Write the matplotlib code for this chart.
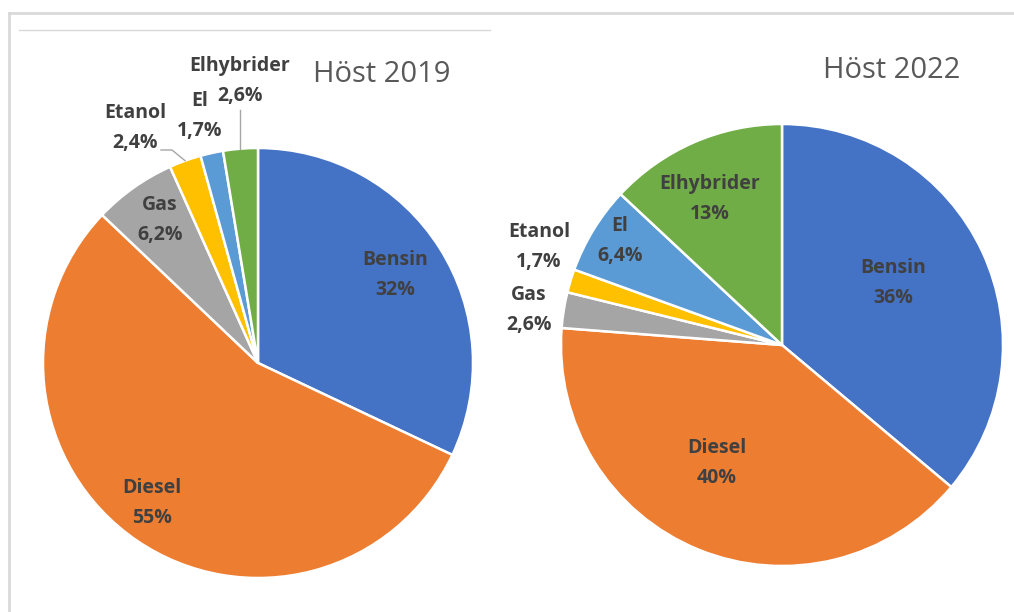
import numpy as np
import matplotlib.pyplot as plt
from matplotlib.lines import Line2D

plt.rcParams['font.family'] = ['Open Sans', 'DejaVu Sans']

# data
categories = ["Bensin", "Diesel", "Gas", "Etanol", "El", "Elhybrider"]
share_2019 = [32, 55, 6.2, 2.4, 1.7, 2.6]
share_2022 = [36, 40, 2.6, 1.7, 6.4, 13]
pct_2019 = ["32%", "55%", "6,2%", "2,4%", "1,7%", "2,6%"]
pct_2022 = ["36%", "40%", "2,6%", "1,7%", "6,4%", "13%"]
colors = ["#4472C4", "#ED7D31", "#A5A5A5", "#FFC000", "#5B9BD5", "#70AD47"]

W, H = 1014, 612
fig = plt.figure(figsize=(W / 100, H / 100), dpi=100)
ax = fig.add_axes([0, 0, 1, 1])

# frame lines
ax.add_line(Line2D([9, W], [13, 13], color="#D9D9D9", lw=2))
ax.add_line(Line2D([9, 9], [13, H], color="#D9D9D9", lw=2))
ax.add_line(Line2D([19, 490], [30, 30], color="#D9D9D9", lw=1))


# y axis is inverted (pixel coords), so draw counterclock from -90 to get clockwise from top
def pie_flip(vals, center, r):
    wedges, _ = ax.pie(vals, colors=colors, startangle=-90, counterclock=True,
                       center=center, radius=r, normalize=True,
                       wedgeprops=dict(edgecolor="white", linewidth=1.8))
    return wedges


w19 = pie_flip(share_2019, (258, 363), 215)
w22 = pie_flip(share_2022, (782, 345), 221)
ax.set_xlim(0, W)
ax.set_ylim(H, 0)
ax.set_aspect('equal')
ax.axis('off')

lab = dict(ha="center", va="center", fontsize=14, fontweight="bold", color="#404040")

pos_2019 = [(395, 275), (152, 503), (160, 220), (135, 128), (200, 116), (240, 81)]
pos_2022 = [(893, 283), (717, 463), (529, 310), (539, 247), (620, 241), (710, 199)]

for names, pcts, poss in [(categories, pct_2019, pos_2019), (categories, pct_2022, pos_2022)]:
    for name, p, (x, y) in zip(names, pcts, poss):
        ax.text(x, y - 15, name, **lab)
        ax.text(x, y + 15, p, **lab)


def edge_point(w, cx, cy, r):
    a = np.deg2rad((w.theta1 + w.theta2) / 2)
    return cx + r * np.cos(a), cy + r * np.sin(a)


# leader lines (2019)
ex, ey = edge_point(w19[3], 258, 363, 215)
ax.add_line(Line2D([161, 172, ex], [150, 150, ey], color="#A6A6A6", lw=1))
ex, ey = edge_point(w19[5], 258, 363, 215)
ax.add_line(Line2D([ex, ex], [110, ey], color="#A6A6A6", lw=1))

ax.text(382, 75, "Höst 2019", ha="center", va="center", fontsize=21, color="#595959")
ax.text(892, 70, "Höst 2022", ha="center", va="center", fontsize=21, color="#595959")

fig.savefig("out.png", dpi=100)
